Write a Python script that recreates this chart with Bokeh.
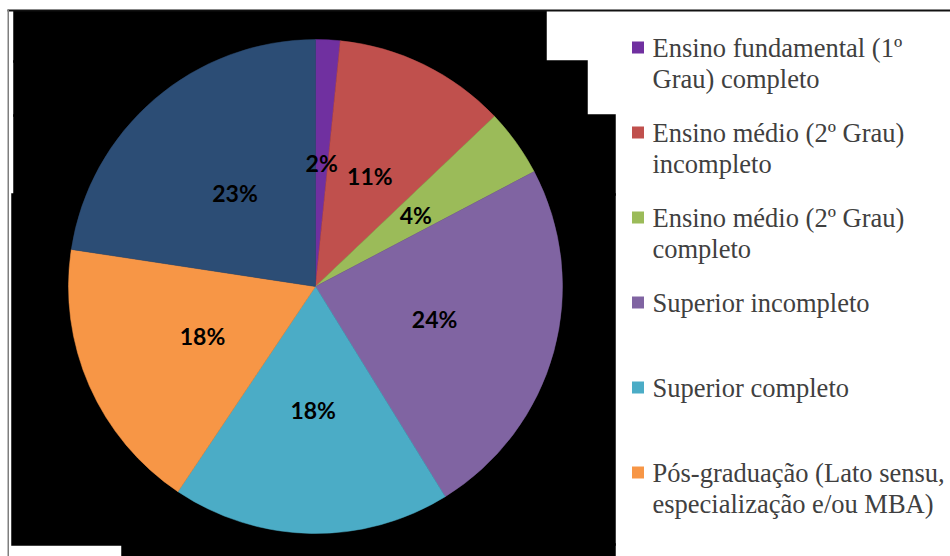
import numpy as np
from bokeh.plotting import figure
from bokeh.models import Range1d, ColumnDataSource
from bokeh.core.properties import value
from bokeh.embed import file_html
from bokeh.resources import INLINE

# ---- data ----
categories = [
    "Ensino fundamental (1º Grau) completo",
    "Ensino médio (2º Grau) incompleto",
    "Ensino médio (2º Grau) completo",
    "Superior incompleto",
    "Superior completo",
    "Pós-graduação (Lato sensu, especialização e/ou MBA)",
    "Outros",
]
legend_lines = [
    ["Ensino fundamental (1º", "Grau) completo"],
    ["Ensino médio (2º Grau)", "incompleto"],
    ["Ensino médio (2º Grau)", "completo"],
    ["Superior incompleto"],
    ["Superior completo"],
    ["Pós-graduação (Lato sensu,", "especialização e/ou MBA)"],
]
shares = [1.6, 11.3, 4.4, 23.9, 18.2, 18.0, 22.6]
colors = ["#7030A0", "#C0504D", "#9BBB59", "#8064A2", "#4BACC6", "#F79646", "#2C4D75"]

W, H = 950, 556
p = figure(width=W, height=H, output_backend="svg", toolbar_location=None,
           x_range=Range1d(0, W), y_range=Range1d(0, H), min_border=0)
p.axis.visible = False
p.grid.visible = False
p.outline_line_color = None
p.background_fill_color = "white"
p.border_fill_color = "white"

def Y(yd):
    return H - yd

# background artifacts (black regions and frame), overlapping to avoid seams
rects = [(13, 546, 10, 62), (13, 587, 60, 116), (13, 615, 114, 195),
         (11, 615, 193, 545), (121, 615, 543, 557)]
p.quad(left=[r[0] for r in rects], right=[r[1] for r in rects],
       top=[Y(r[2]) for r in rects], bottom=[Y(r[3]) for r in rects],
       fill_color="black", line_color="black", line_width=0.5)
p.quad(left=[7], right=[950], top=[Y(9)], bottom=[Y(11)], fill_color="#111111", line_color=None)
p.quad(left=[7], right=[8.5], top=[Y(9)], bottom=[Y(556)], fill_color="#7f7f7f", line_color=None)

# pie
cx, cy, R = 315, Y(286), 247
vals = np.array(shares, dtype=float)
frac = vals / vals.sum()
cum = np.concatenate([[0], np.cumsum(frac)])
start = np.pi / 2 - 2 * np.pi * cum[1:]
end = np.pi / 2 - 2 * np.pi * cum[:-1]
src = ColumnDataSource(dict(start=start, end=end, color=colors))
p.wedge(x=cx, y=cy, radius=R, start_angle="start", end_angle="end",
        fill_color="color", line_color="color", line_width=0.5, source=src)

mid = 2 * np.pi * (cum[:-1] + cum[1:]) / 2
lx = cx + 0.5 * R * np.sin(mid)
ly = cy + 0.5 * R * np.cos(mid)
labels = [f"{round(v)}%" for v in frac * 100]
p.text(x=lx, y=ly, text=labels, text_align="center", text_baseline="middle",
       text_font=value("Lato"), text_font_style="bold", text_font_size="23px",
       text_color="black")

# legend
first_y = 47
step = 85
sq_x, sq_size = 637.5, 12
for i, lines in enumerate(legend_lines):
    yd = first_y + i * step
    p.quad(left=[sq_x - sq_size / 2], right=[sq_x + sq_size / 2],
           top=[Y(yd - sq_size / 2)], bottom=[Y(yd + sq_size / 2)],
           fill_color=colors[i], line_color=None)
    for j, t in enumerate(lines):
        p.text(x=[652], y=[Y(yd + j * 31)], text=[t], text_align="left",
               text_baseline="middle", text_font=value("Liberation Serif"),
               text_font_size="26.5px", text_color="#404040")

open("out.html", "w").write(file_html(p, INLINE))
